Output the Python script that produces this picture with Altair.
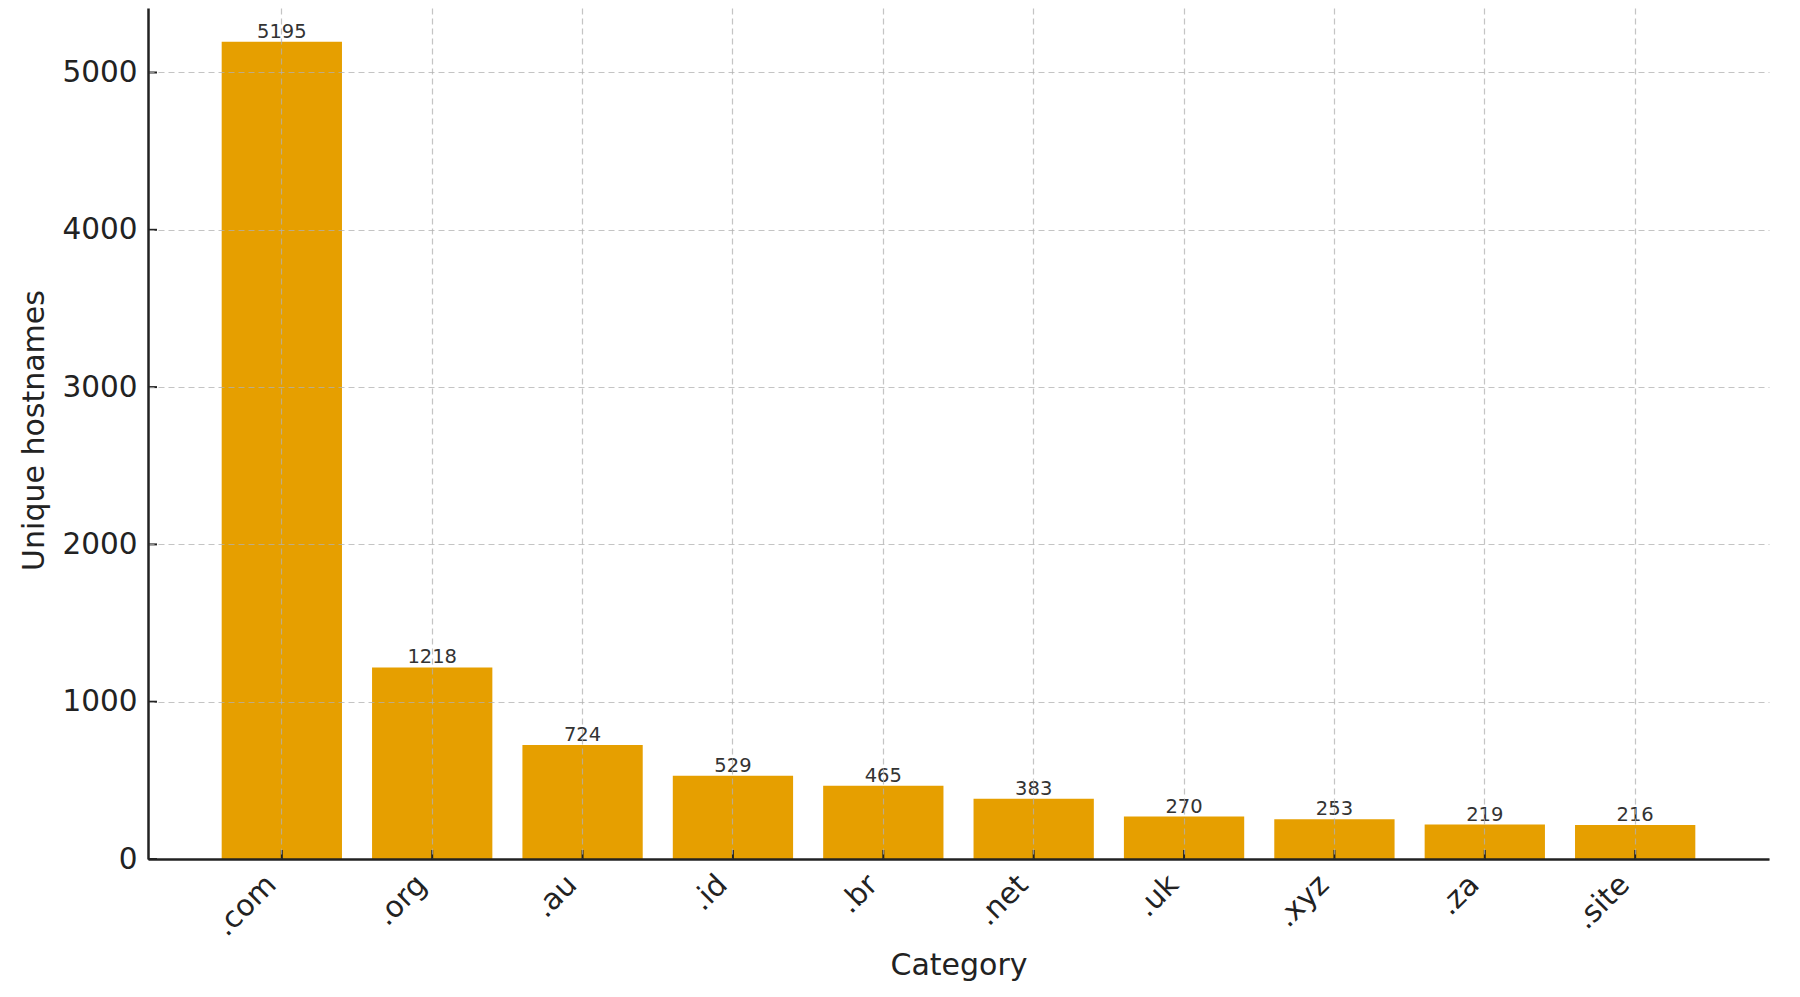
import altair as alt
import pandas as pd

CATEGORIES = [".com", ".org", ".au", ".id", ".br", ".net", ".uk", ".xyz", ".za", ".site"]
VALUES = [5195, 1218, 724, 529, 465, 383, 270, 253, 219, 216]
Y_TICKS = [0, 1000, 2000, 3000, 4000, 5000]

df = pd.DataFrame({"Category": CATEGORIES, "Unique hostnames": VALUES})
tick_df = pd.DataFrame({"Unique hostnames": Y_TICKS})

W, H = 1621, 851
FONT = "DejaVu Sans"
DARK = "#222222"

x_scale = alt.Scale(paddingInner=0.2, paddingOuter=0.49)
y_scale = alt.Scale(domain=[0, 5410], nice=False, zero=True)

x_axis = alt.Axis(
    title="Category",
    labelAngle=-45,
    labelAlign="right",
    labelBaseline="alphabetic",
    labelPadding=27,
    labelOffset=-4,
    labelFontSize=29.5,
    labelFont=FONT,
    labelColor=DARK,
    titleFontSize=30,
    titleFont=FONT,
    titleFontWeight="normal",
    titleColor=DARK,
    titleX=W / 2,
    titleY=115,
    titleBaseline="alphabetic",
    titleAlign="center",
    ticks=False,
    tickSize=0,
    bandPosition=0.5,
    grid=True,
    gridDash=[6, 4],
    gridColor="#b0b0b0",
    gridOpacity=0.75,
    gridWidth=1.2,
    domainColor=DARK,
    domainWidth=2.5,
    zindex=1,
)

y_axis = alt.Axis(
    title="Unique hostnames",
    values=Y_TICKS,
    format="d",
    labelFontSize=29.5,
    labelFont=FONT,
    labelColor=DARK,
    labelPadding=11,
    titleFontSize=30,
    titleFont=FONT,
    titleFontWeight="normal",
    titleColor=DARK,
    titleAngle=270,
    titleX=-105,
    titleY=422,
    titleBaseline="alphabetic",
    titleAlign="center",
    ticks=False,
    tickSize=0,
    grid=True,
    gridDash=[6, 4],
    gridColor="#b0b0b0",
    gridOpacity=0.75,
    gridWidth=1.2,
    domainColor=DARK,
    domainWidth=2.5,
    zindex=1,
)

X = alt.X("Category:N", sort=None, scale=x_scale, axis=x_axis)
Y = alt.Y("Unique hostnames:Q", scale=y_scale, axis=y_axis)

base = alt.Chart(df)

bars = base.mark_bar(color="#E69F00").encode(x=X, y=Y)

labels = base.mark_text(
    dy=-4, baseline="alphabetic", align="center", fontSize=19.5, font=FONT, color="#333333"
).encode(
    x=X,
    y=Y,
    text=alt.Text("Unique hostnames:Q", format="d"),
)

xticks = base.mark_rule(color=DARK, strokeWidth=2).encode(
    x=X,
    y=alt.value(H - 9),
    y2=alt.value(H),
)

yticks = alt.Chart(tick_df).mark_rule(color=DARK, strokeWidth=2).encode(
    y=Y,
    x=alt.value(0),
    x2=alt.value(9),
)

chart = alt.layer(bars, labels, xticks, yticks).properties(
    width=W,
    height=H,
    autosize=alt.AutoSizeParams(type="none"),
    padding={"left": 140, "top": 0, "right": 20, "bottom": 130},
).configure_view(stroke=None)

chart.save("out.html", embed_options={"renderer": "svg", "actions": False})
